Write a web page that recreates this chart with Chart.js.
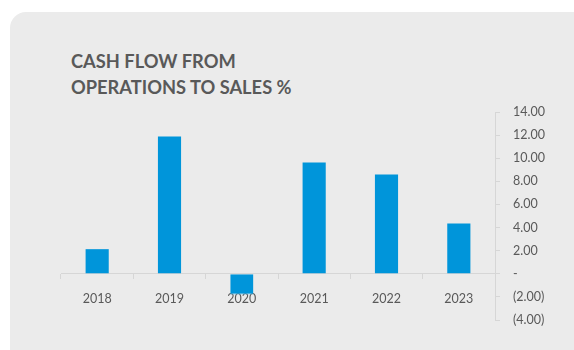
<!DOCTYPE html>
<html>
<head>
<meta charset="utf-8">
<script src="https://cdn.jsdelivr.net/npm/chart.js@4"></script>
<style>
    html, body { margin: 0; padding: 0; background: #ffffff; overflow: hidden; }
    #wrap { position: relative; width: 574px; height: 350px; }
    .card {
        position: absolute; left: 10px; top: 12px;
        width: 600px; height: 360px;
        background: #ebebeb;
        border-top-left-radius: 16px;
    }
    .title {
        position: absolute; left: 71px; top: 48px;
        font-family: Lato, "Open Sans", sans-serif;
        font-weight: 700; font-size: 18.3px; line-height: 26px;
        color: #595959;
    }
    canvas { position: absolute; left: 0; top: 0; }
</style>
</head>
<body>
<div id="wrap">
    <div class="card"></div>
    <div class="title">CASH FLOW FROM<br>OPERATIONS TO SALES %</div>
    <canvas id="cfoChart" width="574" height="350"></canvas>
</div>
<script>
// Cash flow from operations as % of sales, by year
const years = ['2018', '2019', '2020', '2021', '2022', '2023'];
const cfoToSales = [2.13, 11.88, -1.80, 9.63, 8.59, 4.35];

const AXIS_COLOR = '#d6d6d6';
const TEXT_COLOR = '#595959';
const BAR_COLOR = '#0095da';

// accounting style: negatives in brackets, zero as a dash
function fmtTick(v) {
    if (Math.abs(v) < 1e-9) return '-';
    const s = Math.abs(v).toFixed(2);
    return v < 0 ? '(' + s + ')' : s;
}

const ctx = document.getElementById('cfoChart').getContext('2d');
new Chart(ctx, {
    type: 'bar',
    data: {
        labels: years,
        datasets: [{
            data: cfoToSales,
            backgroundColor: BAR_COLOR,
            borderColor: '#5cbbe8',
            borderWidth: { bottom: 1, left: 0, right: 0, top: 0 },
            categoryPercentage: 1.0,
            barPercentage: 0.32
        }]
    },
    options: {
        responsive: false,
        animation: false,
        layout: { padding: { left: 61, top: 112, bottom: 30, right: 0 } },
        scales: {
            x: {
                position: { y: 0 },
                grid: {
                    drawOnChartArea: false,
                    drawTicks: true,
                    tickLength: 5,
                    color: AXIS_COLOR
                },
                border: { display: true, color: AXIS_COLOR, width: 1 },
                ticks: {
                    color: TEXT_COLOR,
                    padding: 13,
                    font: { family: 'Lato', size: 12.5 }
                }
            },
            y: {
                position: 'right',
                min: -4,
                max: 14,
                afterFit: (scale) => { scale.width = 79; },
                grid: {
                    drawOnChartArea: false,
                    drawTicks: true,
                    tickLength: 5,
                    color: AXIS_COLOR
                },
                border: { display: true, color: AXIS_COLOR, width: 1 },
                ticks: {
                    stepSize: 2,
                    color: TEXT_COLOR,
                    padding: 13,
                    font: { family: 'Lato', size: 12.5 },
                    callback: (v) => fmtTick(v)
                }
            }
        },
        plugins: {
            legend: { display: false },
            tooltip: { enabled: false }
        }
    }
});
</script>
</body>
</html>
